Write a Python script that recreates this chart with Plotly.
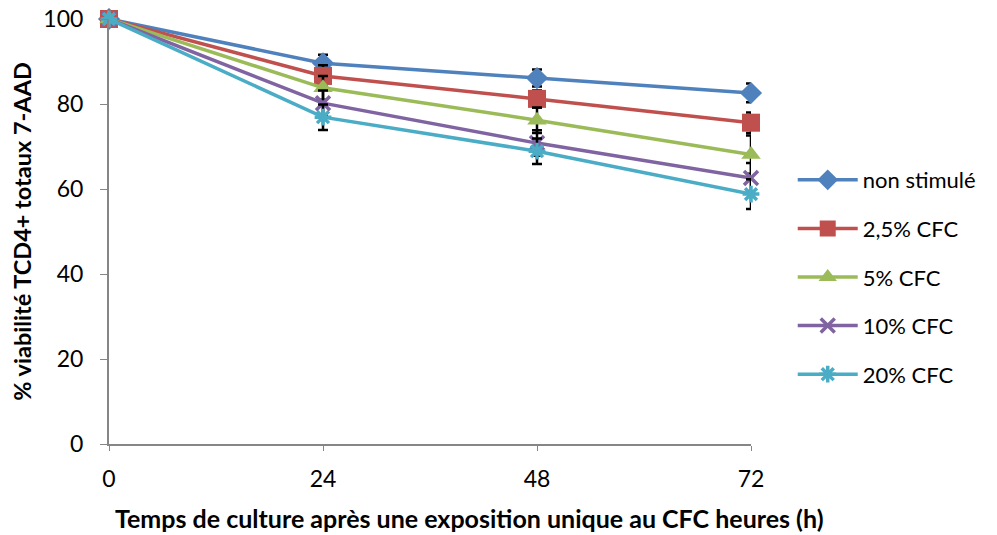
import plotly.graph_objects as go

hours = [0, 24, 48, 72]
series_names = ["non stimulé", "2,5% CFC", "5% CFC", "10% CFC", "20% CFC"]
non_stimule = [100, 89.6, 86.1, 82.6]
cfc_2_5 = [100, 86.6, 81.2, 75.6]
cfc_5 = [100, 83.8, 76.2, 68.1]
cfc_10 = [100, 80.2, 70.8, 62.6]
cfc_20 = [100, 76.9, 68.9, 58.8]
err_non_stimule = [0, 2.0, 2.0, 2.2]
err_2_5 = [0, 2.5, 2.0, 2.4]
err_5 = [0, 2.8, 3.0, 4.5]
err_10 = [0, 3.0, 3.0, 3.5]
err_20 = [0, 3.0, 3.0, 3.5]
x_title = "Temps de culture après une exposition unique au CFC heures (h)"
y_title = "% viabilité TCD4+ totaux 7-AAD"

values = [non_stimule, cfc_2_5, cfc_5, cfc_10, cfc_20]
errors = [err_non_stimule, err_2_5, err_5, err_10, err_20]
colors = ["#4F81BD", "#C0504D", "#9BBB59", "#8064A2", "#4BACC6"]
symbols = ["diamond", "square", "triangle-up", "x-thin-open", "asterisk-open"]
sizes = [17, 18, 17, 14, 14]

fig = go.Figure()
for i, (name, y, e) in enumerate(zip(series_names, values, errors)):
    sym = symbols[i]
    marker = dict(symbol=sym, size=sizes[i], color=colors[i])
    if sym.endswith("-open"):
        marker["line"] = dict(color=colors[i], width=3.5)
    fig.add_trace(go.Scatter(
        x=hours, y=y, name=name, mode="lines+markers",
        line=dict(color=colors[i], width=3.5),
        marker=marker,
        error_y=dict(type="data", array=e, visible=True, color="black", thickness=2.5, width=5),
        legendgroup=name, cliponaxis=False,
    ))

fig.update_layout(
    width=997, height=535,
    margin=dict(l=101, r=254, t=11, b=99, autoexpand=False),
    paper_bgcolor="white", plot_bgcolor="white",
    font=dict(family="Lato, Liberation Sans, sans-serif", size=23, color="black"),
    showlegend=True,
    legend=dict(x=1.065, y=0.393, xanchor="left", yanchor="middle",
                font=dict(size=22), tracegroupgap=17, itemwidth=60,
                bgcolor="rgba(0,0,0,0)"),
    xaxis=dict(range=[0, 72], tickvals=hours, ticktext=[str(h) for h in hours],
               showgrid=False, zeroline=False, showline=True, linecolor="#868686", linewidth=2,
               ticks="outside", tickcolor="#868686", ticklen=5, automargin=False,
               tickfont=dict(size=23), ticklabelstandoff=8, ticklabeloverflow="allow"),
    yaxis=dict(range=[0, 100], tickvals=[0, 20, 40, 60, 80, 100],
               showgrid=False, zeroline=False, showline=True, linecolor="#868686", linewidth=2,
               ticks="outside", tickcolor="#868686", ticklen=7, automargin=False,
               tickfont=dict(size=23), ticklabelstandoff=12, ticklabeloverflow="allow",
               title=dict(text="<b>" + y_title + "</b>", font=dict(size=23.5), standoff=34)),
    annotations=[dict(text="<b>" + x_title + "</b>", xref="paper", yref="paper",
                      x=0.5623, y=-0.174, xanchor="center", yanchor="middle",
                      showarrow=False, font=dict(size=25))],
)

fig.write_html("out.html")
